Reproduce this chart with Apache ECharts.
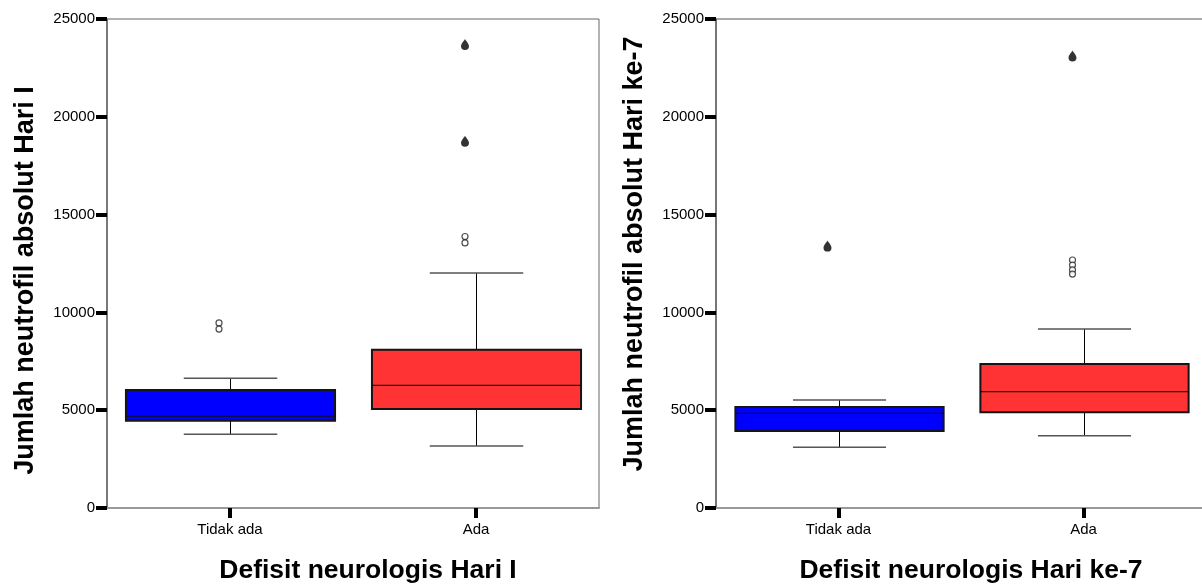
<!DOCTYPE html>
<html>
<head>
<meta charset="utf-8">
<script src="https://cdn.jsdelivr.net/npm/echarts@6/dist/echarts.min.js"></script>
<style>
html,body{margin:0;padding:0;background:#fff;}
#chart{width:1202px;height:588px;}
</style>
</head>
<body>
<div id="chart"></div>
<script>
// ---- data ----
const categories = ['Tidak ada', 'Ada'];
// [min whisker, Q1, median, Q3, max whisker]
const day1Box = [
  [3770, 4460, 4690, 6030, 6630],
  [3170, 5060, 6270, 8090, 12010]
];
const day1Outliers = [[0, 9460], [0, 9150], [1, 13880], [1, 13550]];
const day1Extremes = [[1, 23700], [1, 18750]];

const day7Box = [
  [3100, 3940, 4840, 5160, 5520],
  [3700, 4890, 5950, 7360, 9150]
];
const day7Outliers = [[1, 12680], [1, 12420], [1, 12170], [1, 11960]];
const day7Extremes = [[0, 13390], [1, 23110]];

const yMin = 0, yMax = 25000, yStep = 5000;
const titles = {
  y1: 'Jumlah neutrofil absolut Hari I',
  x1: 'Defisit neurologis Hari I',
  y7: 'Jumlah neutrofil absolut Hari ke-7',
  x7: 'Defisit neurologis Hari ke-7'
};

// ---- styles ----
const boxColors = ['#0000FF', '#FF3333'];
const FONT = 'Liberation Sans';
const dropPath = 'path://M5,0 C4,2 0,6 0,9 A5,5 0 0,0 10,9 C10,6 6,2 5,0 Z';

const chart = echarts.init(document.getElementById('chart'), null, {renderer: 'canvas'});

function renderBox(params, api) {
  const idx = api.value(0);
  const lo = api.coord([idx, api.value(1)]);
  const q1 = api.coord([idx, api.value(2)]);
  const med = api.coord([idx, api.value(3)]);
  const q3 = api.coord([idx, api.value(4)]);
  const hi = api.coord([idx, api.value(5)]);
  const band = api.size([1, 0])[0];
  const bw = band * 0.85;
  const cw = band * 0.38;
  const x = Math.round(lo[0]) + 0.5;
  return {
    type: 'group',
    children: [
      {type: 'line', shape: {x1: x, y1: hi[1], x2: x, y2: q3[1]}, style: {stroke: '#000', lineWidth: 1}},
      {type: 'line', shape: {x1: x, y1: q1[1], x2: x, y2: lo[1]}, style: {stroke: '#000', lineWidth: 1}},
      {type: 'line', shape: {x1: x - cw / 2, y1: hi[1], x2: x + cw / 2, y2: hi[1]}, style: {stroke: '#555', lineWidth: 1.5}},
      {type: 'line', shape: {x1: x - cw / 2, y1: lo[1], x2: x + cw / 2, y2: lo[1]}, style: {stroke: '#555', lineWidth: 1.5}},
      {type: 'rect', shape: {x: x - bw / 2, y: q3[1], width: bw, height: q1[1] - q3[1]},
        style: {fill: boxColors[idx], stroke: '#151515', lineWidth: 2}},
      {type: 'line', shape: {x1: x - bw / 2, y1: med[1], x2: x + bw / 2, y2: med[1]}, style: {stroke: '#111', lineWidth: 1.2}}
    ]
  };
}

function xAxisCfg(gridIndex, name, pad) {
  return {
    type: 'category', gridIndex, data: categories, boundaryGap: true,
    axisLine: {show: true, lineStyle: {color: '#999', width: 2}},
    axisTick: {show: true, alignWithLabel: true, length: 10, lineStyle: {color: '#000', width: 4}},
    axisLabel: {color: '#000', fontFamily: FONT, fontSize: 15, margin: 14},
    splitLine: {show: false},
    name, nameLocation: 'middle', nameGap: 49,
    nameTextStyle: {color: '#000', fontFamily: FONT, fontWeight: 'bold', fontSize: 26.5, padding: pad}
  };
}
function yAxisCfg(gridIndex, name, pad) {
  return {
    type: 'value', gridIndex, min: yMin, max: yMax, interval: yStep,
    axisLine: {show: true, lineStyle: {color: '#666', width: 1.5}},
    axisTick: {show: true, length: 11, lineStyle: {color: '#000', width: 4}},
    axisLabel: {color: '#000', fontFamily: FONT, fontSize: 15, margin: 12, formatter: v => String(v)},
    splitLine: {show: false},
    name, nameLocation: 'middle', nameGap: 68,
    nameTextStyle: {color: '#000', fontFamily: FONT, fontWeight: 'bold', fontSize: 27, padding: pad}
  };
}

function boxData(arr) { return arr.map((v, i) => [i].concat(v)); }

const option = {
  animation: false,
  backgroundColor: '#fff',
  grid: [
    {left: 107, top: 19, width: 492, height: 489, show: true, borderColor: '#666', borderWidth: 1,
      backgroundColor: 'transparent', outerBoundsMode: 'none'},
    {left: 716, top: 19, width: 490, height: 489, show: true, borderColor: '#555', borderWidth: 1,
      backgroundColor: 'transparent', outerBoundsMode: 'none'}
  ],
  xAxis: [xAxisCfg(0, titles.x1, [0, 0, 0, 30]), xAxisCfg(1, titles.x7, [0, 0, 0, 20])],
  yAxis: [yAxisCfg(0, titles.y1, [0, 34, 0, 0]), yAxisCfg(1, titles.y7, [0, 0, 0, 19])],
  series: [
    {type: 'custom', xAxisIndex: 0, yAxisIndex: 0, renderItem: renderBox, data: boxData(day1Box),
      encode: {x: 0, y: [1, 2, 3, 4, 5]}, clip: false},
    {type: 'custom', xAxisIndex: 1, yAxisIndex: 1, renderItem: renderBox, data: boxData(day7Box),
      encode: {x: 0, y: [1, 2, 3, 4, 5]}, clip: false},
    {type: 'scatter', xAxisIndex: 0, yAxisIndex: 0, data: day1Outliers, symbol: 'circle', symbolSize: 6,
      symbolOffset: [-11, 0], itemStyle: {color: '#fff', borderColor: '#222', borderWidth: 1.2}},
    {type: 'scatter', xAxisIndex: 1, yAxisIndex: 1, data: day7Outliers, symbol: 'circle', symbolSize: 6,
      symbolOffset: [-11, 0], itemStyle: {color: '#fff', borderColor: '#222', borderWidth: 1.2}},
    {type: 'scatter', xAxisIndex: 0, yAxisIndex: 0, data: day1Extremes, symbol: dropPath, symbolSize: [8, 11],
      symbolOffset: [-11, 0], itemStyle: {color: '#000'}},
    {type: 'scatter', xAxisIndex: 1, yAxisIndex: 1, data: day7Extremes, symbol: dropPath, symbolSize: [8, 11],
      symbolOffset: [-11, 0], itemStyle: {color: '#000'}}
  ]
};
chart.setOption(option);
</script>
</body>
</html>
